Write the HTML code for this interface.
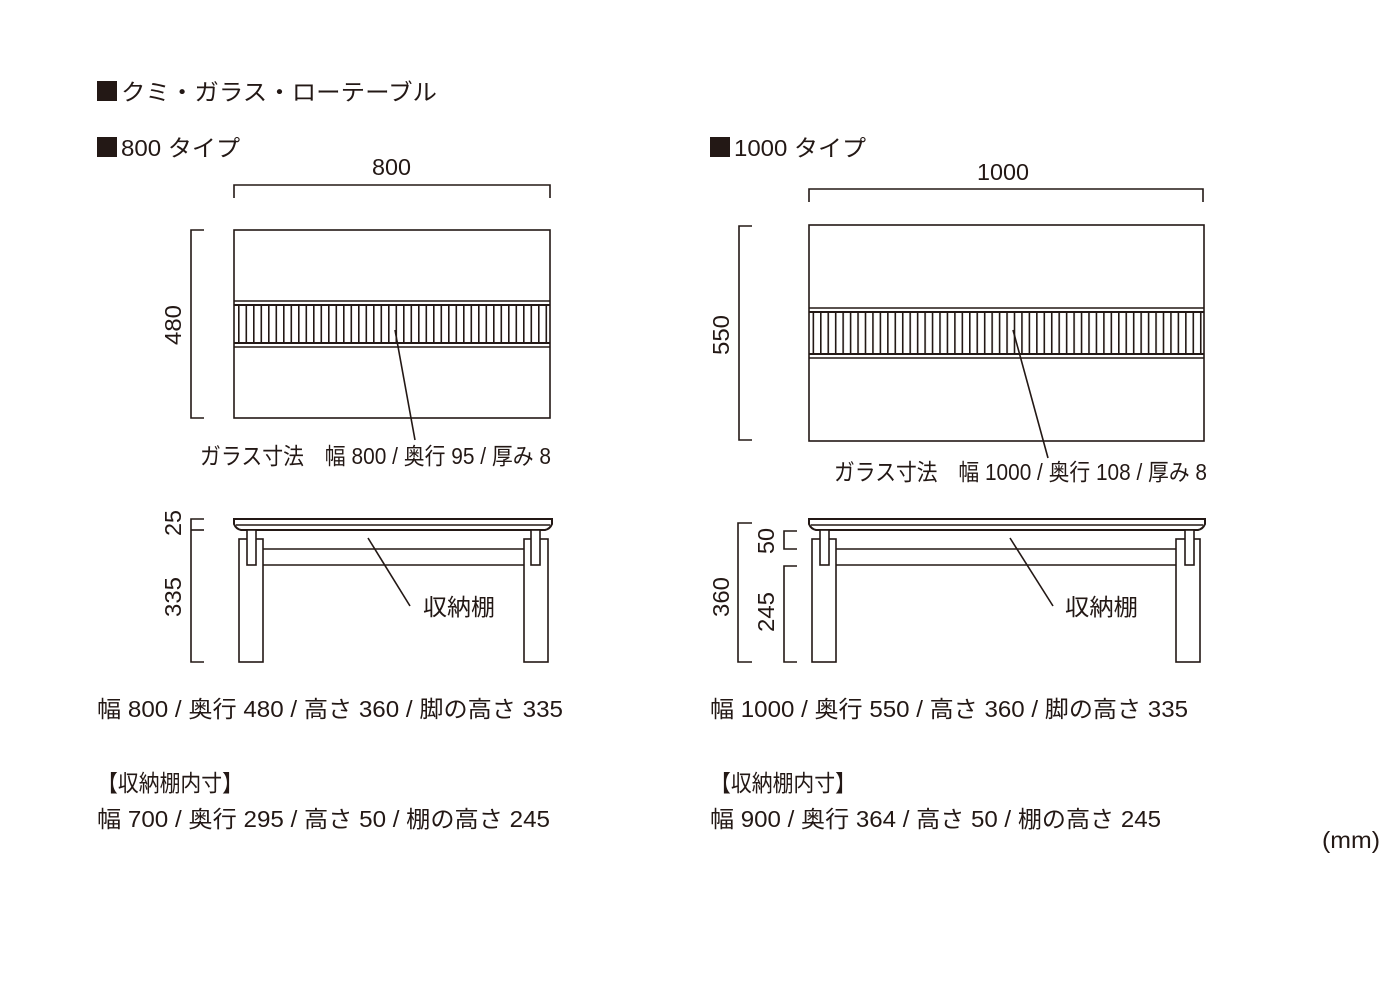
<!DOCTYPE html>
<html><head><meta charset="utf-8"><style>
html,body{margin:0;padding:0;background:#fff;}
svg{display:block;}
text{font-family:"Liberation Sans","Noto Sans CJK JP",sans-serif;fill:#231815;font-size:23px;}
.sq{font-family:"Noto Sans CJK JP",sans-serif;}
</style></head><body>
<svg width="1400" height="1000" viewBox="0 0 1400 1000" xmlns="http://www.w3.org/2000/svg">
<defs>
<pattern id="st" x="238" y="0" width="7.5" height="10" patternUnits="userSpaceOnUse"><rect x="0" y="0" width="1.6" height="10" fill="#231815"/></pattern>
<pattern id="st2" x="820" y="0" width="7.45" height="10" patternUnits="userSpaceOnUse"><rect x="0" y="0" width="1.6" height="10" fill="#231815"/></pattern>
</defs>
<g fill="none" stroke="#231815" stroke-width="1.6">
<polyline points="234,198 234,185 550,185 550,198"/>
<polyline points="204,230 191,230 191,418 204,418"/>
<rect x="234" y="230" width="316" height="188"/>
<line x1="234" y1="301" x2="550" y2="301"/><line x1="234" y1="305" x2="550" y2="305" stroke-width="2"/>
<line x1="234" y1="343" x2="550" y2="343" stroke-width="2"/><line x1="234" y1="347" x2="550" y2="347"/>
<polyline points="809,202 809,189 1203,189 1203,202"/>
<polyline points="752,226 739,226 739,440 752,440"/>
<rect x="809" y="225" width="395" height="216"/>
<line x1="809" y1="308" x2="1204" y2="308"/><line x1="809" y1="312" x2="1204" y2="312" stroke-width="2"/>
<line x1="809" y1="354" x2="1204" y2="354" stroke-width="2"/><line x1="809" y1="358" x2="1204" y2="358"/>
<polyline points="204,519 191,519 191,662 204,662"/>
<line x1="191" y1="530" x2="204" y2="530"/>
<path d="M234,519 L552,519 L552,524 Q550,529 545,530 L241,530 Q236,529 234,524 Z" stroke-width="2"/>
<line x1="236" y1="525" x2="550" y2="525"/>
<rect x="239" y="539" width="24" height="123"/>
<rect x="524" y="539" width="24" height="123"/>
<rect x="247" y="530" width="9" height="35" fill="#fff"/>
<rect x="531" y="530" width="9" height="35" fill="#fff"/>
<line x1="263" y1="549" x2="524" y2="549"/><line x1="263" y1="565" x2="524" y2="565"/>
<line x1="368" y1="538" x2="410" y2="606"/>
<polyline points="752,523 738,523 738,662 752,662"/>
<polyline points="797,531 784,531 784,549 797,549"/>
<polyline points="797,566 784,566 784,662 797,662"/>
<path d="M809,519 L1205,519 L1205,524 Q1203,529 1198,530 L816,530 Q811,529 809,524 Z" stroke-width="2"/>
<line x1="811" y1="525" x2="1203" y2="525"/>
<rect x="812" y="539" width="24" height="123"/>
<rect x="1176" y="539" width="24" height="123"/>
<rect x="820" y="530" width="9" height="35" fill="#fff"/>
<rect x="1185" y="530" width="9" height="35" fill="#fff"/>
<line x1="836" y1="549" x2="1176" y2="549"/><line x1="836" y1="565" x2="1176" y2="565"/>
<line x1="1010" y1="538" x2="1053" y2="606"/>
</g>
<rect x="236" y="306" width="313" height="37" fill="url(#st)"/>
<rect x="811" y="313" width="392" height="41" fill="url(#st2)"/>
<line x1="395" y1="330" x2="415" y2="440" stroke="#231815" stroke-width="1.6"/>
<line x1="1013" y1="330" x2="1048" y2="458" stroke="#231815" stroke-width="1.6"/>

<rect x="97" y="81" width="20" height="20" fill="#231815"/>
<text x="121" y="100" textLength="316" lengthAdjust="spacingAndGlyphs">クミ・ガラス・ローテーブル</text>
<rect x="97" y="137" width="20" height="20" fill="#231815"/>
<text x="121" y="156" textLength="119" lengthAdjust="spacingAndGlyphs">800 タイプ</text>
<rect x="710" y="137" width="20" height="20" fill="#231815"/>
<text x="734" y="156" textLength="132" lengthAdjust="spacingAndGlyphs">1000 タイプ</text>
<text x="372" y="175" textLength="39" lengthAdjust="spacingAndGlyphs">800</text>
<text x="977" y="180" textLength="52" lengthAdjust="spacingAndGlyphs">1000</text>
<text transform="translate(181,345) rotate(-90)" textLength="40" lengthAdjust="spacingAndGlyphs">480</text>
<text transform="translate(729,355) rotate(-90)" textLength="40" lengthAdjust="spacingAndGlyphs">550</text>
<text x="200" y="464" textLength="351" lengthAdjust="spacingAndGlyphs" font-size="21">ガラス寸法　幅 800 / 奥行 95 / 厚み 8</text>
<text x="834" y="480" textLength="373" lengthAdjust="spacingAndGlyphs" font-size="21">ガラス寸法　幅 1000 / 奥行 108 / 厚み 8</text>
<text transform="translate(181,536) rotate(-90)" textLength="26" lengthAdjust="spacingAndGlyphs">25</text>
<text transform="translate(181,617) rotate(-90)" textLength="40" lengthAdjust="spacingAndGlyphs">335</text>
<text transform="translate(729,617) rotate(-90)" textLength="40" lengthAdjust="spacingAndGlyphs">360</text>
<text transform="translate(774,554) rotate(-90)" textLength="26" lengthAdjust="spacingAndGlyphs">50</text>
<text transform="translate(774,632) rotate(-90)" textLength="40" lengthAdjust="spacingAndGlyphs">245</text>
<text x="423" y="615" textLength="72" lengthAdjust="spacingAndGlyphs">収納棚</text>
<text x="1065" y="615" textLength="73" lengthAdjust="spacingAndGlyphs">収納棚</text>
<text x="97" y="717" textLength="466" lengthAdjust="spacingAndGlyphs">幅 800 / 奥行 480 / 高さ 360 / 脚の高さ 335</text>
<text x="710" y="717" textLength="478" lengthAdjust="spacingAndGlyphs">幅 1000 / 奥行 550 / 高さ 360 / 脚の高さ 335</text>
<text x="97" y="791" textLength="146" lengthAdjust="spacingAndGlyphs">【収納棚内寸】</text>
<text x="710" y="791" textLength="146" lengthAdjust="spacingAndGlyphs">【収納棚内寸】</text>
<text x="97" y="827" textLength="453" lengthAdjust="spacingAndGlyphs">幅 700 / 奥行 295 / 高さ 50 / 棚の高さ 245</text>
<text x="710" y="827" textLength="451" lengthAdjust="spacingAndGlyphs">幅 900 / 奥行 364 / 高さ 50 / 棚の高さ 245</text>
<text x="1322" y="848" textLength="58" lengthAdjust="spacingAndGlyphs">(mm)</text>
</svg>
</body></html>
